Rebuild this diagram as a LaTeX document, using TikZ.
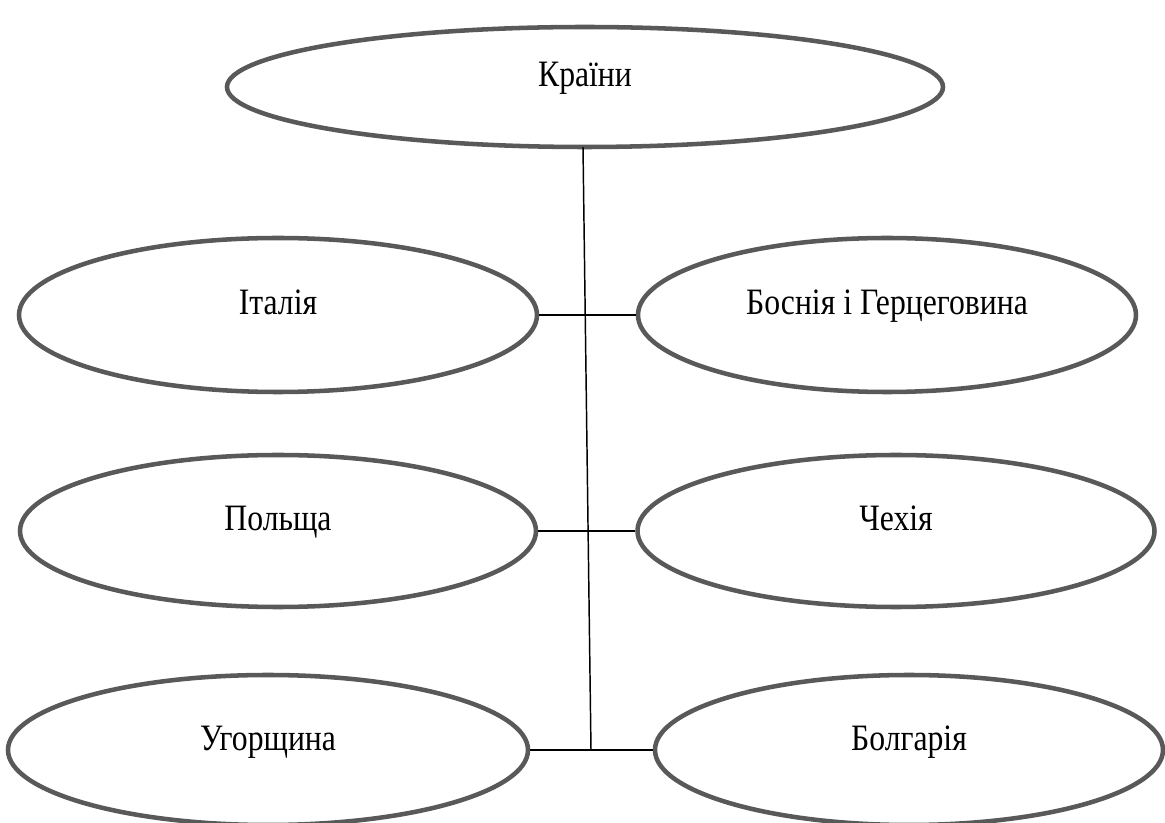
\documentclass[tikz,border=0pt]{standalone}
\usepackage{fontspec}
\usepackage{graphicx}
\setmainfont{Liberation Serif}
\usetikzlibrary{shapes.geometric}
\definecolor{ellgray}{HTML}{595959}
\newcommand{\tallt}[1]{\scalebox{0.97}[1.14]{#1}}
\begin{document}
\begin{tikzpicture}[x=0.75pt,y=-0.75pt,
  ell/.style={draw=ellgray, line width=3.4pt, ellipse, inner sep=0pt,
    text height=0pt, text depth=0pt, font=\fontsize{24.5}{28}\selectfont},
  conn/.style={draw=black, line width=1.8pt},
  vline/.style={draw=black, line width=1.1pt}]
\useasboundingbox (0,0) rectangle (1165,823);
\node[ell, minimum width=537pt, minimum height=90pt] (top) at (585,87) {\tallt{Країни}};
\node[ell, minimum width=388.5pt, minimum height=115.5pt] (ita) at (278,315) {\tallt{Італія}};
\node[ell, minimum width=373.5pt, minimum height=115.5pt] (bos) at (887,315) {\tallt{Боснія і Герцеговина}};
\node[ell, minimum width=387pt, minimum height=114pt] (pol) at (278,531) {\tallt{Польща}};
\node[ell, minimum width=387.75pt, minimum height=114pt] (cze) at (896,531) {\tallt{Чехія}};
\node[ell, minimum width=390pt, minimum height=112.5pt] (hun) at (268,750) {\tallt{Угорщина}};
\node[ell, minimum width=381pt, minimum height=112.5pt] (bul) at (909,750) {\tallt{Болгарія}};
\coordinate (vt) at (583,147);
\coordinate (vb) at (591,750);
\draw[vline] (vt) -- (vb);
\draw[conn] (ita.east) -- (bos.west);
\draw[conn] (pol.east) -- (cze.west);
\draw[conn] (hun.east) -- (bul.west);
\end{tikzpicture}
\end{document}
